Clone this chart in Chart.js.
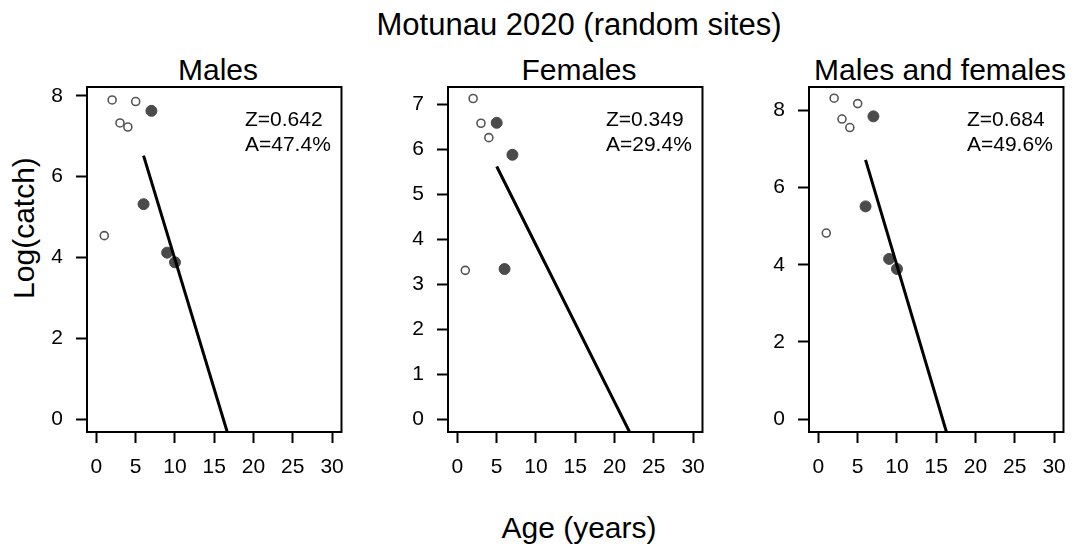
<!DOCTYPE html>
<html>
<head>
<meta charset="utf-8">
<title>Motunau 2020 (random sites)</title>
<script src="https://cdn.jsdelivr.net/npm/chart.js@4.4.1/dist/chart.umd.min.js"></script>
<style>
  html, body { margin: 0; padding: 0; background: #fff; }
  #page { position: relative; width: 1078px; height: 551px; overflow: hidden;
          font-family: "Liberation Sans", Arial, Helvetica, sans-serif; color: #000; }
  #page canvas { position: absolute; top: 0; }
  .lbl { position: absolute; white-space: nowrap; line-height: 1; transform: translateX(-50%); }
  .ylab { position: absolute; white-space: nowrap; line-height: 1; transform: translate(-50%, -50%) rotate(-90deg); }
</style>
</head>
<body>
<div id="page">
  <div class="lbl" style="left:579px; top:9px; font-size:31px;">Motunau 2020 (random sites)</div>
  <div class="lbl" style="left:218px; top:55px; font-size:30px;">Males</div>
  <div class="lbl" style="left:579px; top:55px; font-size:30px;">Females</div>
  <div class="lbl" style="left:940px; top:55px; font-size:30px;">Males and females</div>
  <div class="ylab" style="left:24px; top:228px; font-size:30px;">Log(catch)</div>
  <div class="lbl" style="left:579px; top:513px; font-size:30px;">Age (years)</div>
  <canvas id="males" width="349" height="551" style="left:7px"></canvas>
  <canvas id="females" width="349" height="551" style="left:368px"></canvas>
  <canvas id="both" width="349" height="551" style="left:729px"></canvas>
</div>
<script>
// Age axis
const ageTicks = [0, 5, 10, 15, 20, 25, 30];
const ageMin = -1.2, ageMax = 31.2;

// Males: ages left out of the catch curve (open) and used in it (filled)
const maleOpenAges = [1, 2, 3, 4, 5];
const maleOpenLogCatch = [4.54, 7.90, 7.33, 7.23, 7.86];
const maleFitAges = [6, 7, 9, 10];
const maleFitLogCatch = [5.32, 7.63, 4.12, 3.88];
const maleYTicks = [0, 2, 4, 6, 8];
const maleZ = 0.642, maleA = 47.4;

// Females
const femaleOpenAges = [1, 2, 3, 4];
const femaleOpenLogCatch = [3.31, 7.13, 6.58, 6.26];
const femaleFitAges = [5, 6, 7];
const femaleFitLogCatch = [6.59, 3.34, 5.88];
const femaleYTicks = [0, 1, 2, 3, 4, 5, 6, 7];
const femaleZ = 0.349, femaleA = 29.4;

// Males and females combined
const bothOpenAges = [1, 2, 3, 4, 5];
const bothOpenLogCatch = [4.82, 8.31, 7.77, 7.55, 8.17];
const bothFitAges = [6, 7, 9, 10];
const bothFitLogCatch = [5.51, 7.84, 4.15, 3.89];
const bothYTicks = [0, 2, 4, 6, 8];
const bothZ = 0.684, bothA = 49.6;

const FONT = '"Liberation Sans", Arial, Helvetica, sans-serif';

const mean = arr => arr.reduce((s, v) => s + v, 0) / arr.length;
const toPoints = (xs, ys) => xs.map((x, i) => ({ x: x, y: ys[i] }));

// Plot frame and the Z / A summary in the top-right corner
const framePlugin = {
  id: 'frame',
  afterDraw(chart, args, opts) {
    const { ctx, chartArea: a } = chart;
    ctx.save();
    ctx.strokeStyle = '#000';
    ctx.lineWidth = 2;
    ctx.strokeRect(a.left, a.top, a.right - a.left, a.bottom - a.top);
    ctx.fillStyle = '#000';
    ctx.font = '21px ' + FONT;
    ctx.textAlign = 'left';
    ctx.textBaseline = 'alphabetic';
    ctx.fillText('Z=' + opts.z.toFixed(3), a.right - 96.5, a.top + 38.5);
    ctx.fillText('A=' + opts.a.toFixed(1) + '%', a.right - 96.5, a.top + 64);
    ctx.restore();
  }
};

function makePanel(canvasId, p) {
  // catch-curve line: slope -Z through the centre of the ages used in the fit
  const cAge = mean(p.fitAges), cCatch = mean(p.fitLogCatch);
  const lineAges = [p.fitAges[0], p.lineEndAge];
  const lineData = lineAges.map(a => ({ x: a, y: cCatch - p.z * (a - cAge) }));

  const tickGrid = { display: true, drawOnChartArea: false, drawTicks: true,
                     tickLength: 11, tickWidth: 2, tickColor: '#000' };

  new Chart(document.getElementById(canvasId), {
    type: 'scatter',
    data: {
      datasets: [
        { type: 'line', data: lineData, showLine: true, borderColor: '#000', borderWidth: 3,
          pointRadius: 0, fill: false, tension: 0, clip: 0, order: 0 },
        { data: toPoints(p.fitAges, p.fitLogCatch), pointRadius: 5.5, pointBorderWidth: 1,
          pointBackgroundColor: '#4b4b4b', pointBorderColor: '#4b4b4b', order: 1 },
        { data: toPoints(p.openAges, p.openLogCatch), pointRadius: 4, pointBorderWidth: 1.6,
          pointBackgroundColor: 'rgba(255,255,255,0)', pointBorderColor: '#555', order: 2 }
      ]
    },
    options: {
      responsive: false,
      animation: false,
      devicePixelRatio: 1,
      events: [],
      layout: { padding: { top: 87, bottom: 59, left: 0, right: 7 } },
      plugins: { legend: { display: false }, tooltip: { enabled: false }, title: { display: false },
                 frame: { z: p.z, a: p.a } },
      scales: {
        x: {
          type: 'linear', position: 'bottom', min: ageMin, max: ageMax,
          afterBuildTicks: s => { s.ticks = ageTicks.map(v => ({ value: v })); },
          afterFit: s => { s.height = 60; },
          grid: tickGrid,
          border: { display: false },
          ticks: { padding: 12, color: '#000', font: { family: FONT, size: 21 },
                   autoSkip: false, maxRotation: 0, minRotation: 0 }
        },
        y: {
          type: 'linear', position: 'left', min: p.yMin, max: p.yMax,
          afterBuildTicks: s => { s.ticks = p.yTicks.map(v => ({ value: v })); },
          afterFit: s => { s.width = 80; },
          grid: tickGrid,
          border: { display: false },
          ticks: { padding: 13, color: '#000', font: { family: FONT, size: 21 }, autoSkip: false }
        }
      }
    },
    plugins: [framePlugin]
  });
}

makePanel('males', {
  openAges: maleOpenAges, openLogCatch: maleOpenLogCatch,
  fitAges: maleFitAges, fitLogCatch: maleFitLogCatch,
  yTicks: maleYTicks, yMin: -0.32, yMax: 8.22, z: maleZ, a: maleA, lineEndAge: 17
});
makePanel('females', {
  openAges: femaleOpenAges, openLogCatch: femaleOpenLogCatch,
  fitAges: femaleFitAges, fitLogCatch: femaleFitLogCatch,
  yTicks: femaleYTicks, yMin: -0.284, yMax: 7.386, z: femaleZ, a: femaleA, lineEndAge: 23
});
makePanel('both', {
  openAges: bothOpenAges, openLogCatch: bothOpenLogCatch,
  fitAges: bothFitAges, fitLogCatch: bothFitLogCatch,
  yTicks: bothYTicks, yMin: -0.33, yMax: 8.6, z: bothZ, a: bothA, lineEndAge: 17
});
</script>
</body>
</html>
